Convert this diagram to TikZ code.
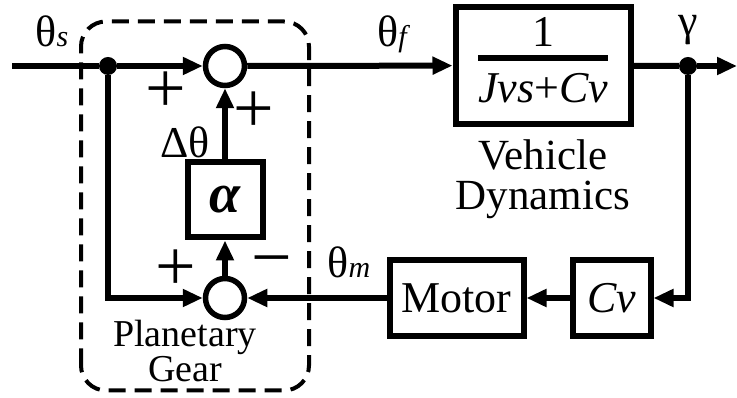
\documentclass[tikz,border=0pt]{standalone}
\usepackage{fontspec}
\setmainfont{Liberation Serif}
\usetikzlibrary{arrows.meta, positioning}

\newcommand{\smallit}[1]{{\fontsize{30}{30}\selectfont\itshape #1}}

\begin{document}
\begin{tikzpicture}[
        x=1pt, y=1pt,
        font=\fontsize{44}{36}\selectfont,
        block/.style={rectangle, draw, line width=6pt, minimum height=76pt,
                      inner sep=0pt, align=center},
        sumnode/.style={circle, draw, line width=5.5pt, minimum size=39pt, inner sep=0pt},
        dot/.style={circle, fill, minimum size=18pt, inner sep=0pt},
        wire/.style={line width=6pt},
        arr/.style={-{Triangle[length=20pt, width=17pt]}, line width=6pt},
        sign/.style={font=\fontsize{72}{72}\selectfont, inner sep=0pt},
        gearbox/.style={line width=4pt, dash pattern=on 17pt off 9pt, rounded corners=25pt},
    ]
        \useasboundingbox (0,0) rectangle (737,398);

        % Forward path
        \coordinate (in) at (12,332);
        \node[dot] (j1) at (108,332) {};
        \node[sumnode] (s1) at (225,332) {};
        \node[block, minimum width=175pt, minimum height=117pt] (tf) at (543,332.5)
            {\setlength{\arrayrulewidth}{5.5pt}%
             \begin{tabular}{@{}c@{}}1\\[-2pt]\hline
             \rule{0pt}{42pt}\itshape Jvs\upshape+\itshape Cv\end{tabular}};
        \node[dot] (j2) at (688,332) {};
        \coordinate (out) at (737,332);

        % Planetary gear
        \node[block, minimum width=75pt, minimum height=75pt] (alpha) at (225,198)
            {\fontsize{56}{56}\selectfont\bfseries\itshape α};
        \node[sumnode] (s2) at (225,100) {};

        % Feedback path
        \node[block, minimum width=134pt] (motor) at (456.5,100) {Motor};
        \node[block, minimum width=78pt] (cv) at (611.5,100) {\itshape Cv};

        % Gear boundary
        \draw[gearbox] (81,7.5) rectangle (309,376.5);

        % Arrows forward
        \draw[wire] (in) -- (j1);
        \draw[arr] (j1) -- (s1);
        \draw[arr] (s1) -- (tf);
        \draw[wire] (tf) -- (j2);
        \draw[arr] (j2) -- (out);

        % Arrows feedback
        \draw[arr] (j2) |- (cv);
        \draw[arr] (cv) -- (motor);
        \draw[arr] (motor) -- (s2);
        \draw[arr] (j1) |- (s2);
        \draw[arr] (s2) -- (alpha);
        \draw[arr] (alpha) -- (s1);

        % Labels
        \node[anchor=base] (ths) at (52,351) {θ\smallit{s}};
        \node[anchor=base] (thf) at (392,351) {θ\smallit{f}};
        \node (gam) at (688,368) {γ};
        \node[anchor=base] (dth) at (185,240) {Δθ};
        \node[sign] (p1) at (166,306) {+};
        \node[sign] (p2) at (254,286) {+};
        \node[sign] (p3) at (176,128) {+};
        \node[sign] (m1) at (272,129) {−};
        \node[anchor=base] (thm) at (349,120) {θ\smallit{m}};
        \node[align=center, font=\fontsize{43}{40}\selectfont] (veh) at (543,219) {Vehicle\\Dynamics};
        \node[align=center, font=\fontsize{38}{35}\selectfont] (pg) at (185,47) {Planetary\\Gear};
    \end{tikzpicture}
\end{document}
